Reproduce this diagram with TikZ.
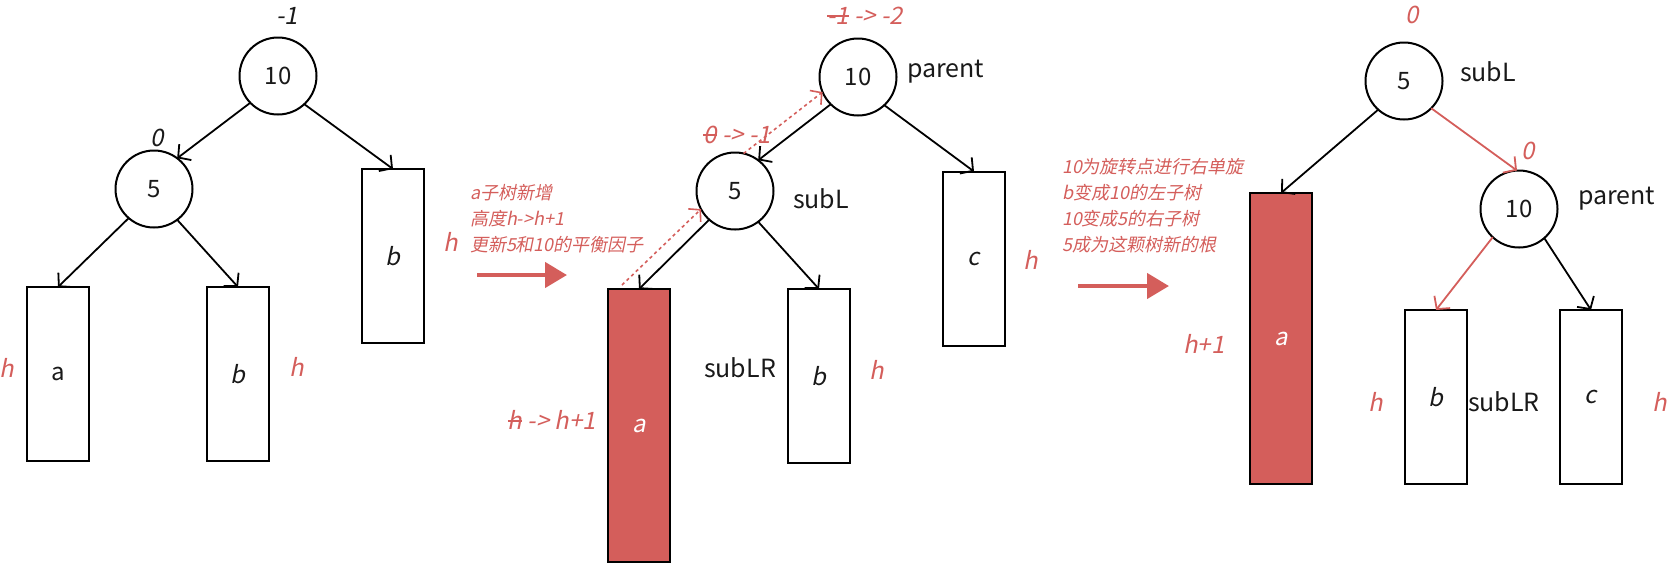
\documentclass[tikz,border=0pt]{standalone}
\usepackage{fontspec}
\setmainfont{Noto Sans CJK SC}
\newfontfamily\slfont[FakeSlant=0.2]{Noto Sans CJK SC}
\usetikzlibrary{arrows.meta}
\definecolor{rd}{RGB}{212,94,91}
\definecolor{ink}{RGB}{25,25,25}
% struck-through old value
\newcommand\strk[1]{\setbox0=\hbox{#1}\rlap{\rule[0.32em]{\wd0}{0.07em}}\box0}

\begin{document}
\begin{tikzpicture}[x=0.5pt,y=-0.5pt,
  every node/.style={inner sep=0pt, outer sep=0pt, text=ink, font=\fontsize{12}{14}\selectfont},
  bal/.style={draw=black, line width=1pt, circle, minimum size=38.5pt},
  sub/.style={draw=black, line width=1pt, rectangle, minimum width=31pt, minimum height=87pt},
  hot/.style={sub, fill=rd, text=white},
  link/.style={draw=black, line width=0.9pt, -{Straight Barb[length=4.5pt,width=10pt]}},
  redge/.style={link, draw=rd},
  hint/.style={draw=rd, line width=0.8pt, dash pattern=on 1.6pt off 1.6pt, -{Straight Barb[length=4pt,width=9pt]}},
  pass/.style={draw=rd, line width=2.2pt, -{Triangle[length=11pt,width=12.5pt]}},
  lbl/.style={font=\fontsize{12.5}{14}\selectfont},
  num/.style={font=\slfont\fontsize{12}{14}\selectfont},
  note/.style={text=rd, font=\slfont\fontsize{12}{14}\selectfont},
  memo/.style={text=rd, align=left, font=\slfont\fontsize{9}{13}\selectfont}
]
\useasboundingbox (0,0) rectangle (1670,575);
\clip (0,0) rectangle (1670,575);

% ---- tree before insertion ----
\node[bal] (r1) at (278,76) {10};
\node[bal] (l1) at (154,189) {5};
\node[sub] (a1) at (58,374) {a};
\node[sub] (b1) at (238,374) {\slfont b};
\node[sub] (b0) at (393,256) {\slfont b};
\node[num] (k1) at (287,16) {-1};
\node[num] (k2) at (157,138) {0};
\node[note] (h1) at (7,368) {h};
\node[note] (h2) at (297,367) {h};
\node[note] (h3) at (451,242) {h};
\draw[link] (r1.224) -- (l1.53);
\draw[link] (r1.313) -- (b0.north);
\draw[link] (l1.229) -- (a1.north);
\draw[link] (l1.307) -- (b1.north);

% ---- after inserting into a ----
\node[memo, anchor=west] (m1) at (470,219) {a子树新增\\高度h->h+1\\更新5和10的平衡因子};
\coordinate (p1s) at (477,275);
\coordinate (p1e) at (567,275);
\draw[pass] (p1s) -- (p1e);

\node[bal] (r2) at (858,77) {10};
\node[bal] (l2) at (735,191) {5};
\node[hot, minimum height=136.5pt] (a2) at (639,425.5) {\slfont a};
\node[sub] (b2) at (819,376) {\slfont b};
\node[sub] (c2) at (974,258.5) {\slfont c};
\node[lbl, anchor=west] (t1) at (907,72) {parent};
\node[lbl, anchor=west] (t2) at (793,199) {subL};
\node[lbl] (t3) at (740,368) {subLR};
\node[note] (k3) at (865,16) {\strk{-1}\ ->\ -2};
\node[note] (k4) at (737,135) {\strk{0}\ ->\ -1};
\node[note] (k5) at (552,420) {\strk{h}\ ->\ h+1};
\node[note] (h4) at (877,370) {h};
\node[note] (h5) at (1031,260) {h};
\draw[link] (r2.225) -- (l2.53);
\draw[link] (r2.313) -- (c2.north);
\draw[link] (l2.228) -- (a2.north);
\draw[link] (l2.307) -- (b2.north);
\draw[hint] ([xshift=7pt,yshift=2pt]a2.north west) -- (l2.208);
\draw[hint] (l2.77) -- (r2.203);

% ---- after the right rotation ----
\node[memo, anchor=west] (m2) at (1062,206) {10为旋转点进行右单旋\\b变成10的左子树\\10变成5的右子树\\5成为这颗树新的根};
\coordinate (p2s) at (1078,286);
\coordinate (p2e) at (1169,286);
\draw[pass] (p2s) -- (p2e);

\node[bal] (r3) at (1404,81) {5};
\node[bal] (l3) at (1519,209) {10};
\node[hot, minimum height=145.5pt] (a3) at (1281,338.5) {\slfont a};
\node[sub] (b3) at (1436,397) {\slfont b};
\node[sub] (c3) at (1591,397) {\slfont c};
\node[lbl, anchor=west] (t4) at (1460,72) {subL};
\node[lbl, anchor=west] (t5) at (1578,199) {parent};
\node[lbl, anchor=west] (t6) at (1468,402) {subLR};
\node[note] (k6) at (1412,15) {0};
\node[note] (k7) at (1528,151) {0};
\node[note] (h6) at (1204,344) {h+1};
\node[note] (h7) at (1376,402) {h};
\node[note] (h8) at (1660,402) {h};
\draw[link] (r3.228) -- (a3.north);
\draw[redge] (r3.315) -- (l3.93);
\draw[redge] (l3.227) -- (b3.north);
\draw[link] (l3.311) -- (c3.north);
\end{tikzpicture}
\end{document}
